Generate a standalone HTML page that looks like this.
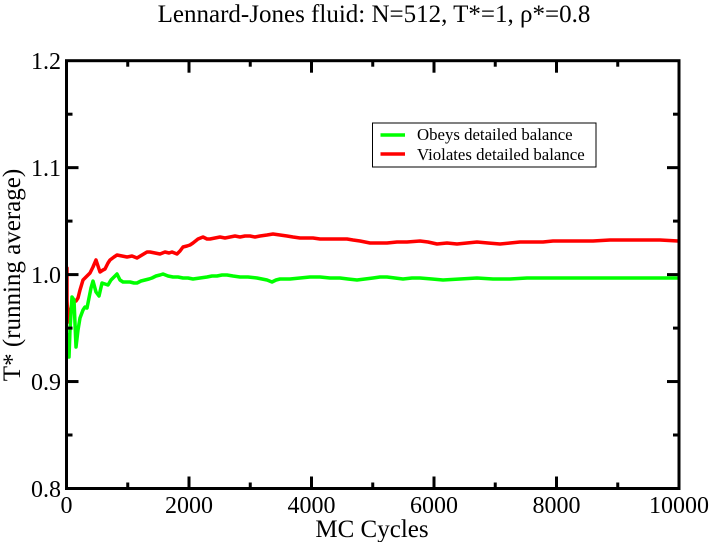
<!DOCTYPE html>
<html>
<head>
<meta charset="utf-8">
<style>
html,body{margin:0;padding:0;background:#fff;}
svg{display:block;}
text{font-family:"Liberation Serif","DejaVu Serif",serif;fill:#000;}
</style>
</head>
<body>
<svg width="711" height="542" viewBox="0 0 711 542" xmlns="http://www.w3.org/2000/svg">
<rect width="711" height="542" fill="#fff"/>
<!-- title -->
<text x="374" y="22" font-size="25" text-anchor="middle">Lennard-Jones fluid: N=512, T*=1, ρ*=0.8</text>

<!-- data -->
<g fill="none" stroke-width="3.5" stroke-linejoin="round" stroke-linecap="round">
<polyline stroke="#ff0000" points="67,268 67,300 68,322 70,312 73,300 76,301 78,298 80,290 83,280 86,277 88,275 90,273 93,267 96,260 98,266 100,272 103,270 105,269 108,263 110,260 114,257 117,255 122,256 127,257 132,256 137,258 142,255 147,252 150,252 155,253 160,254 165,252 169,253 172,252 177,254 180,251 183,247 187,246 190,245 193,243 198,239 203,237 207,239 210,239 215,238 220,237 225,238 230,237 235,236 240,237 245,236 250,236 255,237 260,236 267,235 273,234 280,235 287,236 293,237 300,238 307,238 313,238 320,239 327,239 337,239 347,239 353,240 360,241 365,242 370,243 378,243 387,243 397,242 407,242 420,241 428,242 437,244 447,243 457,244 467,243 477,242 488,243 500,244 510,243 520,242 532,242 543,242 553,241 563,241 578,241 593,241 610,240 627,240 643,240 660,240 678,241"/>
<polyline stroke="#00ff00" points="68,335 69,357 70,330 72,297 74,300 76,347 78,330 80,318 83,310 85,307 87,308 89,298 91,288 93,281 96,292 99,296 102,283 105,284 108,285 111,280 113,278 117,274 120,280 123,282 127,282 130,282 134,283 137,283 141,281 145,280 149,279 152,278 156,276 160,275 163,274 168,276 173,277 178,277 183,278 188,278 193,279 200,278 207,277 212,276 217,276 222,275 227,275 233,276 240,277 248,277 257,278 262,279 267,280 272,282 276,280 280,279 290,279 300,278 310,277 320,277 330,278 340,278 348,279 357,280 365,279 373,278 380,277 387,277 395,278 403,279 412,278 420,278 432,279 443,280 460,279 477,278 493,279 510,279 527,278 543,278 560,278 577,278 593,278 610,278 627,278 643,278 660,278 678,278"/>
</g>

<!-- frame -->
<rect x="66.5" y="60.7" width="612.5" height="427.8" fill="none" stroke="#000" stroke-width="3"/>

<!-- ticks -->
<g stroke="#000" stroke-width="3">
<!-- bottom major -->
<line x1="189" y1="488.5" x2="189" y2="476.5"/>
<line x1="311.5" y1="488.5" x2="311.5" y2="476.5"/>
<line x1="434" y1="488.5" x2="434" y2="476.5"/>
<line x1="556.5" y1="488.5" x2="556.5" y2="476.5"/>
<!-- bottom minor -->
<line x1="127.75" y1="488.5" x2="127.75" y2="482.5"/>
<line x1="250.25" y1="488.5" x2="250.25" y2="482.5"/>
<line x1="372.75" y1="488.5" x2="372.75" y2="482.5"/>
<line x1="495.25" y1="488.5" x2="495.25" y2="482.5"/>
<line x1="617.75" y1="488.5" x2="617.75" y2="482.5"/>
<!-- top major -->
<line x1="189" y1="60.7" x2="189" y2="72.7"/>
<line x1="311.5" y1="60.7" x2="311.5" y2="72.7"/>
<line x1="434" y1="60.7" x2="434" y2="72.7"/>
<line x1="556.5" y1="60.7" x2="556.5" y2="72.7"/>
<!-- top minor -->
<line x1="127.75" y1="60.7" x2="127.75" y2="66.7"/>
<line x1="250.25" y1="60.7" x2="250.25" y2="66.7"/>
<line x1="372.75" y1="60.7" x2="372.75" y2="66.7"/>
<line x1="495.25" y1="60.7" x2="495.25" y2="66.7"/>
<line x1="617.75" y1="60.7" x2="617.75" y2="66.7"/>
<!-- left major -->
<line x1="66.5" y1="167.65" x2="78.5" y2="167.65"/>
<line x1="66.5" y1="274.6" x2="78.5" y2="274.6"/>
<line x1="66.5" y1="381.55" x2="78.5" y2="381.55"/>
<!-- left minor -->
<line x1="66.5" y1="114.2" x2="72.5" y2="114.2"/>
<line x1="66.5" y1="221.1" x2="72.5" y2="221.1"/>
<line x1="66.5" y1="328.1" x2="72.5" y2="328.1"/>
<line x1="66.5" y1="435" x2="72.5" y2="435"/>
<!-- right major -->
<line x1="679" y1="167.65" x2="667" y2="167.65"/>
<line x1="679" y1="274.6" x2="667" y2="274.6"/>
<line x1="679" y1="381.55" x2="667" y2="381.55"/>
<!-- right minor -->
<line x1="679" y1="114.2" x2="673" y2="114.2"/>
<line x1="679" y1="221.1" x2="673" y2="221.1"/>
<line x1="679" y1="328.1" x2="673" y2="328.1"/>
<line x1="679" y1="435" x2="673" y2="435"/>
</g>

<!-- y tick labels -->
<g font-size="24" text-anchor="end">
<text x="61" y="69">1.2</text>
<text x="61" y="176">1.1</text>
<text x="61" y="283">1.0</text>
<text x="61" y="390">0.9</text>
<text x="61" y="497">0.8</text>
</g>
<!-- x tick labels -->
<g font-size="24" text-anchor="middle">
<text x="66.5" y="513">0</text>
<text x="189" y="513">2000</text>
<text x="311.5" y="513">4000</text>
<text x="434" y="513">6000</text>
<text x="556.5" y="513">8000</text>
<text x="679" y="513">10000</text>
</g>

<!-- axis labels -->
<text x="372" y="537" font-size="25" text-anchor="middle">MC Cycles</text>
<text transform="translate(20,275) rotate(-90)" font-size="25" text-anchor="middle">T* (running average)</text>

<!-- legend -->
<rect x="372.5" y="123" width="223.5" height="44" fill="#fff" stroke="#000" stroke-width="1"/>
<line x1="380.5" y1="135" x2="405" y2="135" stroke="#00ff00" stroke-width="3.5"/>
<line x1="380.5" y1="154" x2="405" y2="154" stroke="#ff0000" stroke-width="3.5"/>
<text x="417" y="140" font-size="16.8">Obeys detailed balance</text>
<text x="417" y="160" font-size="16.8">Violates detailed balance</text>
</svg>
</body>
</html>
